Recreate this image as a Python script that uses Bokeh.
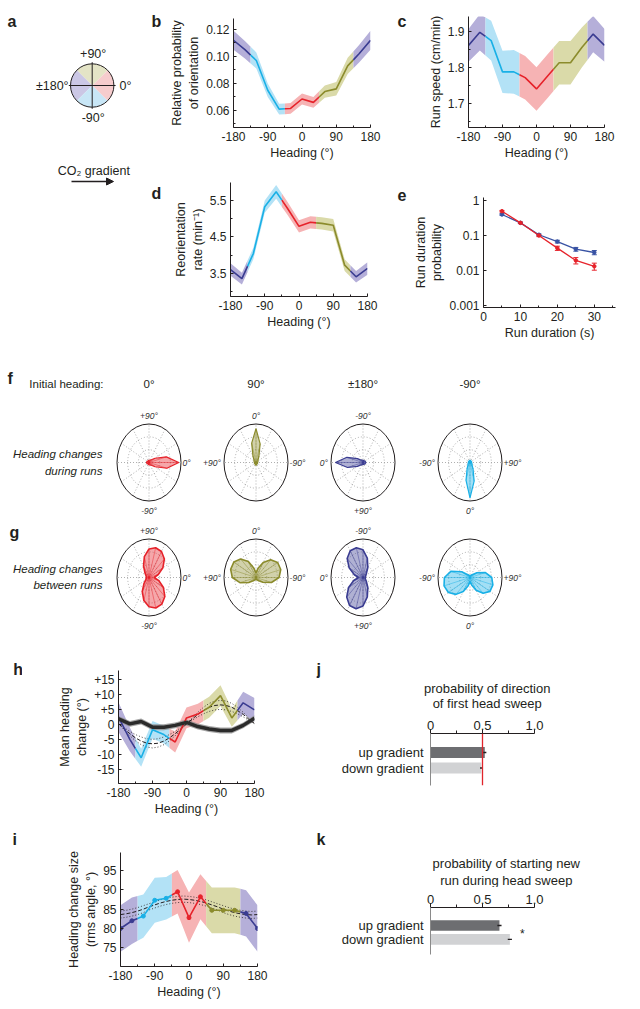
import numpy as np
from bokeh.plotting import figure
from bokeh.layouts import row, column
from bokeh.models import (Range1d, FixedTicker, Arrow, NormalHead,
                          Whisker, TeeHead, Span, ColumnDataSource)
from bokeh.core.properties import value
from bokeh.embed import file_html
from bokeh.resources import INLINE

FONT = "Liberation Sans"
INK = "#231f20"
LINE = {"purple": "#3a3c91", "cyan": "#19b0e6", "red": "#e6222a", "olive": "#8b8b2c"}
BAND = {"purple": "#b5afd9", "cyan": "#b3e2f6", "red": "#f6b3b4", "olive": "#dadaa9"}
WEDGE = {"purple": "#cbc7e5", "cyan": "#c8e6f6", "red": "#f6cccd", "olive": "#e4e4c6"}
E_BLUE_C = "#3953a4"
E_RED_C = "#e6222a"
UP_C = "#6d6e71"
DN_C = "#d1d2d4"

# ------------------------------------------------------------------ data
HEADING = [-180, -150, -120, -90, -60, -30, 0, 30, 60, 90, 120, 150, 180]
HEAD_TICKS = [-180, -90, 0, 90, 180]
HEAD_LABELS = ["-180", "-90", "0", "90", "180"]
HEAD_MINOR = [-135, -45, 45, 135]
SECTORS = [(-180, -135, "purple"), (-135, -45, "cyan"), (-45, 45, "red"),
           (45, 135, "olive"), (135, 180, "purple")]

# b  relative probability of orientation
B_PROB = [0.112, 0.105, 0.097, 0.075, 0.061, 0.0615, 0.0685, 0.066, 0.074, 0.076, 0.093, 0.102, 0.112]
B_ERR = [0.007, 0.0065, 0.006, 0.005, 0.004, 0.004, 0.004, 0.004, 0.0045, 0.005, 0.006, 0.0065, 0.007]
B_YTICKS = [0.06, 0.08, 0.10, 0.12]
B_YLABELS = ["0.06", "0.08", "0.10", "0.12"]
B_YMINOR = [0.05, 0.07, 0.09, 0.11]

# c  run speed
C_SPEED = [1.861, 1.897, 1.874, 1.788, 1.788, 1.772, 1.741, 1.777, 1.813, 1.813, 1.855, 1.892, 1.861]
C_ERR = [0.045, 0.05, 0.055, 0.058, 0.06, 0.06, 0.06, 0.06, 0.06, 0.06, 0.055, 0.05, 0.045]
C_YTICKS = [1.7, 1.8, 1.9]
C_YLABELS = ["1.7", "1.8", "1.9"]
C_YMINOR = [1.65, 1.75, 1.85]

# d  reorientation rate
D_RATE = [3.60, 3.35, 4.04, 5.33, 5.74, 5.28, 4.79, 4.90, 4.87, 4.82, 3.72, 3.40, 3.63]
D_ERR = [0.17, 0.16, 0.16, 0.17, 0.19, 0.18, 0.17, 0.17, 0.17, 0.17, 0.16, 0.16, 0.17]
D_YTICKS = [3.5, 4.5, 5.5]
D_YLABELS = ["3.5", "4.5", "5.5"]
D_YMINOR = [3.0, 4.0, 5.0]

# e  run duration probability
E_T = [5, 10, 15, 20, 25, 30]
E_BLUE = [0.398, 0.23, 0.105, 0.067, 0.0406, 0.0327]
E_BLUE_ERR = [0.02, 0.01, 0.006, 0.006, 0.005, 0.0045]
E_RED = [0.495, 0.23, 0.100, 0.0435, 0.0194, 0.0132]
E_RED_ERR = [0.025, 0.012, 0.007, 0.006, 0.004, 0.003]
E_XTICKS = [0, 10, 20, 30]
E_XLABELS = ["0", "10", "20", "30"]
E_XMINOR = [5, 15, 25, 35]
E_YTICKS = [0.001, 0.01, 0.1, 1]
E_YLABELS = ["0.001", "0.01", "0.1", "1"]

# f / g  polar roses (radius vs heading change)
CHANGE = [-180, -165, -150, -135, -120, -105, -90, -75, -60, -45, -30, -15,
          0, 15, 30, 45, 60, 75, 90, 105, 120, 135, 150, 165]
INITIAL = [0, 90, 180, -90]
COL_HEAD = ["0°", "90°", "±180°", "-90°"]
COL_COLOR = ["red", "olive", "purple", "cyan"]
F_R = [
    [0.08, 0.07, 0.06, 0.05, 0.05, 0.05, 0.06, 0.06, 0.07, 0.10, 0.22, 0.58, 0.93, 0.56, 0.22, 0.10, 0.07, 0.06, 0.06, 0.05, 0.05, 0.05, 0.06, 0.07],
    [0.07, 0.06, 0.05, 0.05, 0.05, 0.05, 0.05, 0.06, 0.07, 0.09, 0.18, 0.50, 0.88, 0.52, 0.19, 0.09, 0.07, 0.06, 0.05, 0.05, 0.05, 0.05, 0.05, 0.06],
    [0.09, 0.08, 0.07, 0.06, 0.05, 0.05, 0.06, 0.06, 0.07, 0.09, 0.20, 0.52, 0.86, 0.50, 0.20, 0.09, 0.07, 0.06, 0.05, 0.05, 0.05, 0.06, 0.07, 0.08],
    [0.06, 0.05, 0.05, 0.05, 0.05, 0.05, 0.05, 0.06, 0.07, 0.09, 0.18, 0.48, 0.92, 0.50, 0.19, 0.09, 0.07, 0.06, 0.05, 0.05, 0.05, 0.05, 0.05, 0.05],
]
G_R = [
    [0.08, 0.09, 0.12, 0.22, 0.42, 0.62, 0.76, 0.82, 0.80, 0.70, 0.52, 0.32, 0.16, 0.30, 0.50, 0.68, 0.78, 0.80, 0.74, 0.56, 0.34, 0.18, 0.11, 0.09],
    [0.06, 0.06, 0.07, 0.12, 0.25, 0.50, 0.72, 0.80, 0.78, 0.65, 0.45, 0.25, 0.12, 0.25, 0.48, 0.68, 0.80, 0.82, 0.74, 0.52, 0.26, 0.12, 0.07, 0.06],
    [0.07, 0.08, 0.10, 0.15, 0.30, 0.52, 0.72, 0.80, 0.80, 0.70, 0.50, 0.28, 0.14, 0.30, 0.52, 0.72, 0.84, 0.84, 0.74, 0.52, 0.30, 0.15, 0.09, 0.07],
    [0.05, 0.05, 0.06, 0.10, 0.30, 0.62, 0.80, 0.84, 0.78, 0.62, 0.42, 0.22, 0.10, 0.20, 0.38, 0.58, 0.72, 0.74, 0.68, 0.50, 0.25, 0.10, 0.06, 0.05],
]
POLAR_LABEL_CHANGE = [0, 90, -90]
POLAR_LABEL_TEXT = ["0°", "+90°", "-90°"]

# h  mean heading change
H_MEAN = [2.5, -5.0, -11.2, -1.8, -3.4, -5.9, 2.2, 3.5, 5.8, 9.7, 2.2, 7.3, 4.9]
H_ERR = [5.0, 4.0, 3.0, 3.0, 3.0, 3.5, 3.5, 3.5, 3.5, 3.5, 3.0, 3.7, 4.0]
H_CTRL = [1.9, 0.2, 1.0, -0.9, -0.9, -0.3, 0.7, -0.7, -1.5, -2.0, -2.0, -0.3, 2.1]
H_CTRL_ERR = [1.0, 1.0, 1.0, 1.0, 1.0, 1.0, 1.0, 1.0, 1.0, 1.0, 1.0, 1.0, 1.0]
FIT_X = [-180, -165, -150, -135, -120, -105, -90, -75, -60, -45, -30, -15, 0,
         15, 30, 45, 60, 75, 90, 105, 120, 135, 150, 165, 180]
H_FIT = [0.3, -1.5, -3.1, -4.5, -5.6, -6.3, -6.5, -6.3, -5.6, -4.5, -3.1, -1.5, 0.2, 1.8, 3.4, 4.7, 5.8, 6.4, 6.6, 6.4, 5.8, 4.7, 3.4, 1.8, 0.3]
H_FIT_LO = [0.3, -1.1, -2.3, -3.4, -4.2, -4.8, -5.0, -4.8, -4.2, -3.4, -2.3, -1.1, 0.2, 1.4, 2.6, 3.6, 4.4, 4.9, 5.1, 4.9, 4.4, 3.6, 2.6, 1.4, 0.3]
H_FIT_HI = [0.3, -1.8, -3.8, -5.5, -6.8, -7.6, -7.9, -7.6, -6.8, -5.5, -3.8, -1.8, 0.2, 2.2, 4.1, 5.8, 7.1, 7.9, 8.1, 7.9, 7.1, 5.8, 4.1, 2.2, 0.3]
H_YTICKS = [-15, -10, -5, 0, 5, 10, 15]
H_YLABELS = ["-15", "-10", "-5", "0", "+5", "+10", "+15"]

# i  heading change size
I_RMS = [80.0, 82.0, 83.2, 87.3, 87.8, 89.5, 82.8, 88.2, 84.7, 84.7, 84.7, 83.9, 80.0]
I_ERR = [6.0, 6.0, 5.6, 5.8, 5.5, 5.6, 6.5, 5.8, 5.9, 5.9, 5.9, 6.0, 6.0]
I_FIT = [83.6, 83.8, 84.1, 84.5, 85.0, 85.6, 86.1, 86.6, 87.0, 87.3, 87.5, 87.6, 87.5, 87.3, 87.0, 86.6, 86.1, 85.6, 85.0, 84.5, 84.1, 83.8, 83.6, 83.5, 83.6]
I_FIT_HI = [84.5, 84.7, 85.0, 85.4, 85.9, 86.4, 86.9, 87.4, 87.8, 88.1, 88.3, 88.4, 88.3, 88.1, 87.8, 87.4, 86.9, 86.4, 85.9, 85.4, 85.0, 84.7, 84.5, 84.4, 84.5]
I_FIT_LO = [82.7, 82.9, 83.2, 83.6, 84.1, 84.8, 85.3, 85.8, 86.2, 86.5, 86.7, 86.8, 86.7, 86.5, 86.2, 85.8, 85.3, 84.8, 84.1, 83.6, 83.2, 82.9, 82.7, 82.6, 82.7]
I_YTICKS = [75, 80, 85, 90, 95]
I_YLABELS = ["75", "80", "85", "90", "95"]

# j / k  bars
GRAD_CATS = ["up gradient", "down gradient"]
GRAD_POS = [1, 0]
J_VALS = [0.522, 0.488]
J_ERR = [0.015, 0.012]
K_VALS = [0.663, 0.763]
K_ERR = [0.02, 0.02]
P_TICKS = [0, 0.5, 1.0]
P_LABELS = ["0", "0.5", "1.0"]
P_MINOR = [0.25, 0.75]
J_TITLE = ["probability of direction", "of first head sweep"]
K_TITLE = ["probability of starting new", "run during head sweep"]

# a  schematic
A_SECTOR_CENTER = [0, 90, 180, -90]
A_SECTOR_COLOR = ["red", "olive", "purple", "cyan"]
A_LABELS = ["0°", "+90°", "±180°", "-90°"]


# ------------------------------------------------------------------ helpers
def txt(p, x, y, s, size="12px", align="left", baseline="middle", style="normal", color=INK):
    p.text(x=[x], y=[y], text=[s], text_font=value(FONT), text_font_size=size,
           text_align=align, text_baseline=baseline, text_font_style=style,
           text_color=color)


def bare_fig(w, h, xr, yr):
    p = figure(width=w, height=h, x_range=Range1d(*xr), y_range=Range1d(*yr),
               x_axis_type=None, y_axis_type=None, output_backend="svg",
               toolbar_location=None, min_border=0, title=None)
    p.outline_line_color = None
    p.background_fill_color = "white"
    return p


def page_fig(x0, y0, w, h):
    """bare figure whose data coordinates are page pixels (y downwards)"""
    return bare_fig(w, h, (x0, x0 + w), (y0 + h, y0))


def letter(p, x, y, t):
    txt(p, x, y, t, size="16px", baseline="alphabetic", style="bold")


def axis_fig(x0, y0, w, h, fl, fr, ft, fb, xr, yr, ylog=False, **kw):
    p = figure(width=w, height=h, x_range=Range1d(*xr), y_range=Range1d(*yr),
               min_border_left=fl - x0, min_border_right=x0 + w - fr,
               min_border_top=ft - y0, min_border_bottom=y0 + h - fb,
               y_axis_type="log" if ylog else "linear", title=None,
               output_backend="svg", toolbar_location=None, **kw)
    p.outline_line_color = None
    p.grid.visible = False
    return p


def shield(p):
    return column(p)


def style_axis(ax, ticks, labels, minor=(), tick_in=3, tick_out=0, size="12px",
               line_color=INK, standoff=4, label_size="12.5px"):
    ax.ticker = FixedTicker(ticks=list(ticks), minor_ticks=list(minor))
    ax.major_label_overrides = dict(zip(ticks, labels))
    ax.axis_line_color = line_color
    ax.major_tick_line_color = INK
    ax.minor_tick_line_color = INK
    ax.major_tick_in = tick_in
    ax.major_tick_out = tick_out
    ax.minor_tick_in = 2 if tick_in else 0
    ax.minor_tick_out = 3 if tick_out else 0
    ax.major_label_text_font = FONT
    ax.major_label_text_font_size = size
    ax.major_label_text_color = INK
    ax.axis_label_text_font = FONT
    ax.axis_label_text_font_size = label_size
    ax.axis_label_text_font_style = "normal"
    ax.axis_label_text_color = INK
    ax.major_label_standoff = standoff
    ax.axis_label_standoff = 2


def sector_slice(xs, ys, lo, hi):
    px = [lo] + [x for x in xs if lo < x < hi] + [hi]
    return px, [float(v) for v in np.interp(px, xs, ys)]


def draw_bands(p, y, err):
    up_v = list(np.add(y, err))
    dn_v = list(np.subtract(y, err))
    for lo, hi, c in SECTORS:
        px, up = sector_slice(HEADING, up_v, lo, hi)
        _, dn = sector_slice(HEADING, dn_v, lo, hi)
        p.patch(px + px[::-1], up + dn[::-1], fill_color=BAND[c], line_color=None)


def draw_lines(p, y, lw=1.6):
    for lo, hi, c in SECTORS:
        px, py = sector_slice(HEADING, y, lo, hi)
        p.line(px, py, line_color=LINE[c], line_width=lw)


def sector_of(x):
    for lo, hi, c in SECTORS:
        if lo <= x <= hi:
            return c


def heading_axes(p, yticks, ylabels, yminor, ylabel):
    style_axis(p.xaxis[0], HEAD_TICKS, HEAD_LABELS, HEAD_MINOR)
    p.xaxis[0].axis_label = "Heading (°)"
    style_axis(p.yaxis[0], yticks, ylabels, yminor)
    p.yaxis[0].axis_label = ylabel


# ------------------------------------------------------------------ panel a
AW, AH = 150, 345
pa = bare_fig(AW, AH, (0, AW), (0, AH))
acx, acy, ar = 91.7, 260.0, 21.7
for cen, col in zip(A_SECTOR_CENTER, A_SECTOR_COLOR):
    pa.wedge(x=[acx], y=[acy], radius=ar, start_angle=np.deg2rad(cen - 45),
             end_angle=np.deg2rad(cen + 45), fill_color=WEDGE[col], line_color=None)
pa.ellipse(x=[acx], y=[acy], width=2 * ar, height=2 * ar, fill_color=None,
           line_color=INK, line_width=1)
pa.segment(x0=[acx - 23.4, acx], y0=[acy, acy - 23.3], x1=[acx + 23.4, acx],
           y1=[acy, acy + 23.3], line_color=INK, line_width=1)
for cen, lab in zip(A_SECTOR_CENTER, A_LABELS):
    c, s = round(np.cos(np.deg2rad(cen))), round(np.sin(np.deg2rad(cen)))
    if c == 1:
        txt(pa, acx + 27.3, acy, lab, size="12.5px", align="left")
    elif c == -1:
        txt(pa, acx - 23.6, acy, lab, size="12.5px", align="right")
    elif s == 1:
        txt(pa, acx + 1, acy + 32, lab, size="12.5px", align="center")
    else:
        txt(pa, acx + 1, acy - 32.3, lab, size="12.5px", align="center")
txt(pa, 93.3, 174.3, "CO₂ gradient", size="12.5px", align="center")
pa.add_layout(Arrow(end=NormalHead(size=7, fill_color=INK, line_color=INK),
                    x_start=71, y_start=164, x_end=113, y_end=164,
                    line_color=INK, line_width=1.3))
txt(pa, 7, 324.3, "a", size="16px", baseline="alphabetic", style="bold")

# ------------------------------------------------------------------ panels b, c, d, e
lb = page_fig(150, 0, 15, 180)
letter(lb, 151, 20.7, "b")
pb = axis_fig(165, 0, 230, 180, 233, 370, 18, 127, (-180, 180), (0.0474, 0.1281))
draw_bands(pb, B_PROB, B_ERR)
draw_lines(pb, B_PROB)
heading_axes(pb, B_YTICKS, B_YLABELS, B_YMINOR, "Relative probability\nof orientation")

ld = page_fig(150, 180, 15, 165)
letter(ld, 151, 192.7, "d")
pd_ = axis_fig(165, 180, 230, 165, 230, 367, 182, 296, (-180, 180), (2.858, 5.996))
draw_bands(pd_, D_RATE, D_ERR)
draw_lines(pd_, D_RATE)
heading_axes(pd_, D_YTICKS, D_YLABELS, D_YMINOR, "Reorientation\nrate (min⁻¹)")

lc = page_fig(395, 0, 15, 180)
letter(lc, 397, 20.7, "c")
pc = axis_fig(410, 0, 230, 180, 468, 604, 16, 127, (-180, 180), (1.6347, 1.9405))
draw_bands(pc, C_SPEED, C_ERR)
draw_lines(pc, C_SPEED)
heading_axes(pc, C_YTICKS, C_YLABELS, C_YMINOR, "Run speed (cm/min)")

le = page_fig(395, 180, 15, 165)
letter(le, 397, 194, "e")
pe = axis_fig(410, 180, 230, 165, 480, 615, 197, 307, (0, 35.74), (0.000877, 1.218), ylog=True)
style_axis(pe.xaxis[0], E_XTICKS, E_XLABELS, E_XMINOR)
style_axis(pe.yaxis[0], E_YTICKS, E_YLABELS, [])
pe.xaxis[0].axis_label = "Run duration (s)"
pe.yaxis[0].axis_label = "Run duration\nprobability"
for ys, errs, col in ((E_BLUE, E_BLUE_ERR, E_BLUE_C), (E_RED, E_RED_ERR, E_RED_C)):
    pe.line(E_T, ys, line_color=col, line_width=1.3)
    pe.scatter(E_T, ys, size=3.5, color=col)
    src = ColumnDataSource(dict(x=E_T, lo=list(np.subtract(ys, errs)), hi=list(np.add(ys, errs))))
    pe.add_layout(Whisker(source=src, base="x", lower="lo", upper="hi",
                          line_color=col, line_width=1,
                          upper_head=TeeHead(size=5, line_color=col),
                          lower_head=TeeHead(size=5, line_color=col)))

# ------------------------------------------------------------------ panels f / g
RX, RY = 32.0, 38.5
pt = page_fig(0, 345, 104, 287)
letter(pt, 7, 377.7, "f")
txt(pt, 103, 383, "Initial heading:", size="11.5px", align="right")
txt(pt, 102, 453, "Heading changes", size="11.5px", align="right", style="italic")
txt(pt, 102, 470, "during runs", size="11.5px", align="right", style="italic")
letter(pt, 9, 531.7, "g")
txt(pt, 102, 568, "Heading changes", size="11.5px", align="right", style="italic")
txt(pt, 102, 584, "between runs", size="11.5px", align="right", style="italic")


def polar_fig(w, h, cx, cy, radii, init, color, header=None, lw=1.2):
    p = bare_fig(w, h, (-cx / RX, (w - cx) / RX), (-(h - cy) / RY, cy / RY))
    p.ellipse(x=[0, 0], y=[0, 0], width=[2 / 3, 4 / 3], height=[2 / 3, 4 / 3],
              fill_color=None, line_color="#9a9a9a", line_dash="1 2", line_width=0.8)
    sp = np.deg2rad(np.arange(0, 360, 30))
    p.segment(x0=[0] * len(sp), y0=[0] * len(sp), x1=list(np.cos(sp)), y1=list(np.sin(sp)),
              line_color="#9a9a9a", line_dash="1 2", line_width=0.8)
    p.ellipse(x=[0], y=[0], width=2, height=2, fill_color=None, line_color=INK, line_width=1)
    th = np.deg2rad(np.add(init, CHANGE))
    xs = list(np.multiply(radii, np.cos(th)))
    ys = list(np.multiply(radii, np.sin(th)))
    p.patch(xs, ys, fill_color=LINE[color], fill_alpha=0.4, line_color=LINE[color], line_width=lw)
    p.segment(x0=[0] * len(xs), y0=[0] * len(xs), x1=xs, y1=ys,
              line_color=LINE[color], line_width=0.6, line_alpha=0.75)
    for ch, lab in zip(POLAR_LABEL_CHANGE, POLAR_LABEL_TEXT):
        a = np.deg2rad(init + ch)
        c, s = round(np.cos(a)), round(np.sin(a))
        kw = dict(size="8.5px", style="italic", color="#333333")
        if c == 1:
            txt(p, 1.05, 0, lab, align="left", **kw)
        elif c == -1:
            txt(p, -1.1, 0, lab, align="right", **kw)
        elif s == 1:
            txt(p, 0, 1.22, lab, align="center", **kw)
        else:
            txt(p, 0, -1.27, lab, align="center", **kw)
    if header is not None:
        txt(p, 0, (cy - 38) / RY, header, size="11.5px", align="center")
    return p


PW = [98, 107, 107, 224]
PCX = [44.5, 53.5, 53.5, 53.5]
polar_cols = []
for k in range(4):
    pf = polar_fig(PW[k], 175, PCX[k], 117, F_R[k], INITIAL[k], COL_COLOR[k], COL_HEAD[k])
    pg = polar_fig(PW[k], 112, PCX[k], 57, G_R[k], INITIAL[k], COL_COLOR[k], lw=1.6)
    polar_cols.append(column(pf, pg))

# ------------------------------------------------------------------ panel h
lh = page_fig(0, 632, 22, 186)
letter(lh, 12.7, 669.3, "h")
ph = axis_fig(22, 632, 294, 186, 118, 254, 670, 783, (-180, 180), (-19.87, 18.18))
draw_bands(ph, H_MEAN, H_ERR)
ph.patch(HEADING + HEADING[::-1],
         list(np.add(H_CTRL, H_CTRL_ERR)) + list(np.subtract(H_CTRL, H_CTRL_ERR))[::-1],
         fill_color="#8f8f8f", fill_alpha=0.8, line_color=None)
ph.line(FIT_X, H_FIT_LO, line_color=INK, line_dash="1 2", line_width=0.8)
ph.line(FIT_X, H_FIT_HI, line_color=INK, line_dash="1 2", line_width=0.8)
ph.line(FIT_X, H_FIT, line_color=INK, line_dash="4 2", line_width=1)
draw_lines(ph, H_MEAN, lw=1.6)
ph.line(HEADING, H_CTRL, line_color="#2b2b2b", line_width=3.5)
heading_axes(ph, H_YTICKS, H_YLABELS, [], "Mean heading\nchange (°)")

# ------------------------------------------------------------------ panel i
li = page_fig(0, 818, 22, 190)
letter(li, 12, 839.3, "i")
pi_ = axis_fig(22, 818, 294, 190, 120, 257, 852, 966, (-180, 180), (70.17, 99.65))
draw_bands(pi_, I_RMS, I_ERR)
pi_.line(FIT_X, I_FIT_LO, line_color=INK, line_dash="1 2", line_width=0.8)
pi_.line(FIT_X, I_FIT_HI, line_color=INK, line_dash="1 2", line_width=0.8)
pi_.line(FIT_X, I_FIT, line_color=INK, line_dash="4 2", line_width=1)
draw_lines(pi_, I_RMS, lw=1.6)
pi_.scatter(HEADING, I_RMS, size=4, color=[LINE[sector_of(x)] for x in HEADING])
heading_axes(pi_, I_YTICKS, I_YLABELS, [], "Heading change size\n(rms angle, °)")


# ------------------------------------------------------------------ panels j / k
def bar_panel(x0, y0, w, h, fl, fr, ft, fb, yr, vals, errs, bar_h, star=False):
    p = axis_fig(x0, y0, w, h, fl, fr, ft, fb, (0, 1.0), yr, x_axis_location="above")
    p.hbar(y=GRAD_POS, left=0, right=vals, height=bar_h, fill_color=[UP_C, DN_C], line_color=None)
    p.segment(x0=list(np.subtract(vals, errs)), x1=list(np.add(vals, errs)),
              y0=GRAD_POS, y1=GRAD_POS, line_color=INK, line_width=1.4)
    style_axis(p.xaxis[0], P_TICKS, P_LABELS, P_MINOR, tick_in=0, tick_out=4,
               size="13px", standoff=0)
    style_axis(p.yaxis[0], GRAD_POS, GRAD_CATS, [], tick_in=0, tick_out=0,
               size="13px", line_color="#8a8a8a", standoff=7)
    if star:
        p.text(x=[vals[1] + errs[1] + 0.1], y=[GRAD_POS[1] + 0.35], text=["*"],
               text_font=value(FONT), text_font_size="12px", text_align="center",
               text_baseline="middle", text_color=INK)
    return p


tj = page_fig(316, 632, 324, 80)
letter(tj, 316, 669.3, "j")
txt(tj, 486.7, 688, J_TITLE[0], size="13px", align="center")
txt(tj, 486.7, 703, J_TITLE[1], size="13px", align="center")
pj = bar_panel(316, 712, 324, 106, 430, 534, 733, 785, (-1.13, 2.23), J_VALS, J_ERR, 0.71)
pj.add_layout(Span(location=0.5, dimension="height", line_color="#e0242b", line_width=1.3))

tk = page_fig(316, 818, 324, 69)
letter(tk, 316, 839.3, "k")
txt(tk, 505.8, 863.3, K_TITLE[0], size="13px", align="center")
txt(tk, 505.8, 880, K_TITLE[1], size="13px", align="center")
pk = bar_panel(316, 887, 324, 121, 430, 534, 907, 954, (-1.09, 2.29), K_VALS, K_ERR, 0.76, star=True)

# ------------------------------------------------------------------ layout
top = row(pa,
          column(row(lb, shield(pb)), row(ld, shield(pd_))),
          column(row(lc, shield(pc)), row(le, shield(pe))))
mid = row(pt, *polar_cols)
bot1 = row(lh, shield(ph), column(tj, shield(pj)))
bot2 = row(li, shield(pi_), column(tk, shield(pk)))
layout = column(top, mid, bot1, bot2)

open("out.html", "w").write(file_html(layout, INLINE))
